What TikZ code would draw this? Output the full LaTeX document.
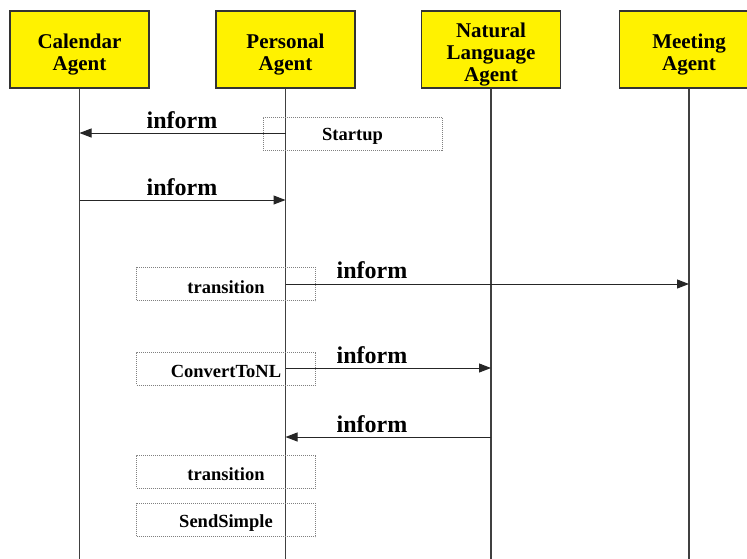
\documentclass[tikz,border=0pt]{standalone}
\usepackage{fontspec}
\setmainfont{Liberation Serif}
\usetikzlibrary{arrows.meta}
\begin{document}
\begin{tikzpicture}[x=1pt,y=-1pt,
 agent/.style={draw=black!80, line width=1.2pt, fill=yellow, minimum width=139pt, minimum height=77pt, inner sep=0pt},
 agenttxt/.style={align=center, inner sep=0pt, font=\fontsize{21}{22}\selectfont\bfseries},
 life/.style={draw=black!75, line width=1.1pt},
 msg/.style={draw=black!85, line width=1pt, -{Triangle[length=12pt,width=9pt]}},
 msglbl/.style={anchor=base, font=\fontsize{24}{25}\selectfont\bfseries, inner sep=0pt},
 actbox/.style={draw=black!50, line width=0.7pt, dash pattern=on 1pt off 1pt, minimum width=179pt, minimum height=33pt, inner sep=0pt},
 acttxt/.style={inner sep=0pt, font=\fontsize{18.5}{19}\selectfont\bfseries}
]
\useasboundingbox (0,0) rectangle (747,558);
\clip (0,0) rectangle (747,558);

% agents
\node[agent] (cal)  at (79.5,49.5)  {};
\node[agent] (pers) at (285.5,49.5) {};
\node[agent] (nl)   at (491,49.5)   {};
\node[agent] (meet) at (689,49.5)   {};
\node[agenttxt] (calT)  at ([yshift=-5pt]cal.center)  {Calendar\\Agent};
\node[agenttxt] (persT) at ([yshift=-5pt]pers.center) {Personal\\Agent};
\node[agenttxt] (nlT)   at ([yshift=-5pt]nl.center)   {Natural\\Language\\Agent};
\node[agenttxt] (meetT) at ([yshift=-5pt]meet.center) {Meeting\\Agent};

% lifeline ends
\coordinate (calEnd)  at (79.5,560);
\coordinate (persEnd) at (285.5,560);
\coordinate (nlEnd)   at (491,560);
\coordinate (meetEnd) at (689,560);
\draw[life] (cal.south) -- (calEnd);
\draw[life] (pers.south) -- (persEnd);
\draw[life] (nl.south) -- (nlEnd);
\draw[life] (meet.south) -- (meetEnd);

% activity boxes
\node[actbox] (startup) at (352.5,133.5) {};
\node[actbox] (trans1)  at (226,284)     {};
\node[actbox] (conv)    at (226,368.5)   {};
\node[actbox] (trans2)  at (226,471.5)   {};
\node[actbox] (send)    at (226,520)     {};
\node[acttxt] (startupT) at ([yshift=-3pt]startup.center) {Startup};
\node[acttxt] (trans1T)  at ([yshift=-3pt]trans1.center)  {transition};
\node[acttxt] (convT)    at ([yshift=-3pt]conv.center)    {ConvertToNL};
\node[acttxt] (trans2T)  at ([yshift=-3pt]trans2.center)  {transition};
\node[acttxt] (sendT)    at ([yshift=-3pt]send.center)    {SendSimple};

% message points
\coordinate (m1a) at (285.5,133); \coordinate (m1b) at (79.5,133);
\coordinate (m2a) at (79.5,200);  \coordinate (m2b) at (285.5,200);
\coordinate (m3a) at (285.5,284); \coordinate (m3b) at (689,284);
\coordinate (m4a) at (285.5,368); \coordinate (m4b) at (491,368);
\coordinate (m5a) at (491,437);   \coordinate (m5b) at (285.5,437);

\draw[msg] (m1a) -- (m1b);
\draw[msg] (m2a) -- (m2b);
\draw[msg] (m3a) -- (m3b);
\draw[msg] (m4a) -- (m4b);
\draw[msg] (m5a) -- (m5b);

\node[msglbl] (l1) at (182,128) {inform};
\node[msglbl] (l2) at (182,195) {inform};
\node[msglbl] (l3) at (372,278) {inform};
\node[msglbl] (l4) at (372,363) {inform};
\node[msglbl] (l5) at (372,432) {inform};
\end{tikzpicture}
\end{document}
